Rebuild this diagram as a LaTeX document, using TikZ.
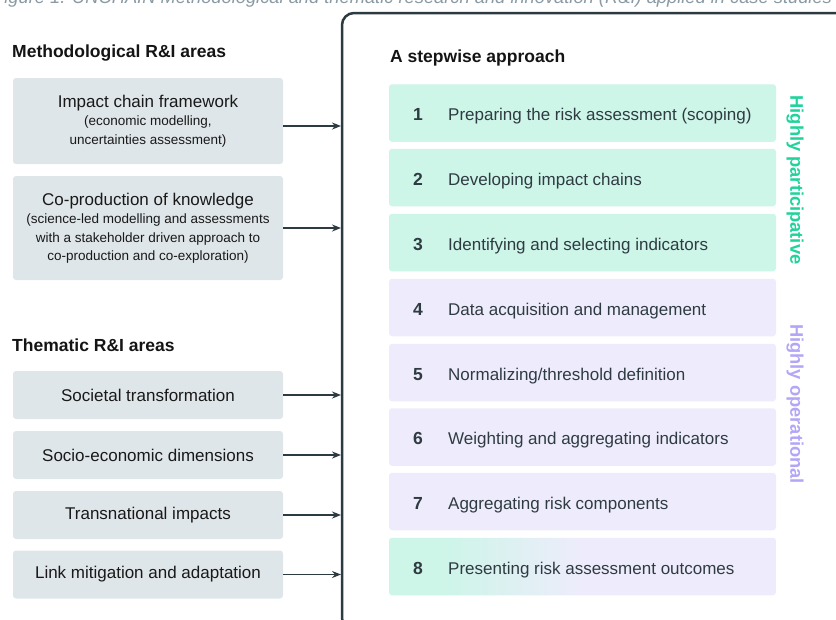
\documentclass[tikz,border=0pt]{standalone}
\usepackage{fontspec}
\setmainfont{Liberation Sans}
\usepackage{tikz}
\usetikzlibrary{arrows.meta}
\definecolor{areagray}{HTML}{DFE6E9}
\definecolor{stepgreen}{HTML}{CDF5E8}
\definecolor{steplilac}{HTML}{EEECFC}
\definecolor{partgreen}{HTML}{1FD39B}
\definecolor{oplilac}{HTML}{B3A6F7}
\definecolor{framedark}{HTML}{2C3A41}
\definecolor{captiongray}{HTML}{8A9AA4}
\definecolor{stepink}{HTML}{2F3B42}
\pgfdeclarehorizontalshading{stepfade}{100bp}{color(0bp)=(stepgreen); color(32bp)=(stepgreen); color(50bp)=(steplilac); color(100bp)=(steplilac)}
\newcommand{\areanote}[1]{{\fontsize{13.5}{18.5}\selectfont #1}}
\tikzset{
	capnode/.style={
			anchor=base west,
			inner sep=0pt,
			text=captiongray,
			font=\fontsize{18.3}{20}\selectfont\itshape
		},
	framenode/.style={
			draw=framedark,
			line width=2.5pt,
			rounded corners=12pt
		},
	headnode/.style={
			anchor=base west,
			inner sep=0pt,
			text=black!92,
			font=\fontsize{17.5}{20}\selectfont\bfseries
		},
	areanode/.style={
			fill=areagray,
			rounded corners=3pt,
			minimum width=270pt,
			inner sep=0pt,
			align=center,
			text=black!90,
			font=\fontsize{17}{18.5}\selectfont
		},
	stepnode/.style={
			rounded corners=3pt,
			minimum width=387pt,
			minimum height=57.5pt,
			inner sep=0pt
		},
	greenstep/.style={
			stepnode,
			fill=stepgreen
		},
	lilacstep/.style={
			stepnode,
			fill=steplilac
		},
	fadestep/.style={
			stepnode,
			shade,
			shading=stepfade
		},
	stepnum/.style={
			anchor=base west,
			inner sep=0pt,
			text=stepink,
			font=\fontsize{17.5}{20}\selectfont\bfseries
		},
	steptext/.style={
			anchor=base west,
			inner sep=0pt,
			text=stepink,
			font=\fontsize{17}{20}\selectfont
		},
	sidenode/.style={
			rotate=-90,
			inner sep=0pt,
			font=\fontsize{18.3}{20}\selectfont\bfseries
		},
	feedarrow/.style={
			draw=framedark,
			line width=1.8pt,
			-{Stealth[length=9pt,width=7pt]}
		}
}

\begin{document}
\begin{tikzpicture}[x=1pt,y=-1pt]
\useasboundingbox (0,0) rectangle (836,619);
\clip (0,0) rectangle (836,619);

% caption line, running off the top edge
\node[capnode] (cap) at (-7,3.5) {Figure 1. UNCHAIN Methodological and thematic research and innovation (R\&I) applied in case studies};

% open frame around the steps
\draw[framenode] (342,13) rectangle (900,630);
\coordinate (rim) at (341,0);

% left column
\node[headnode] (hMeth) at (12,57) {Methodological R\&I areas};
\node[areanode, minimum height=86pt] (mImpact) at (148,121) {Impact chain framework\\\areanote{(economic modelling,}\\\areanote{uncertainties assessment)}};
\node[areanode, minimum height=104pt] (mCoprod) at (148,228) {Co-production of knowledge\\\areanote{(science-led modelling and assessments}\\\areanote{with a stakeholder driven approach to}\\\areanote{co-production and co-exploration)}};

\node[headnode] (hThem) at (12,351) {Thematic R\&I areas};
\node[areanode, minimum height=48pt] (tSoc) at (148,395) {Societal transformation};
\node[areanode, minimum height=48pt] (tEco) at (148,455) {Socio-economic dimensions};
\node[areanode, minimum height=48pt] (tTrans) at (148,515) {Transnational impacts};
\node[areanode, minimum height=48pt] (tLink) at (148,574.5) {Link mitigation and adaptation};

\draw[feedarrow] ([yshift=-5pt]mImpact.east) -- ([yshift=-5pt]mImpact.east -| rim);
\draw[feedarrow] (mCoprod.east) -- (mCoprod.east -| rim);
\draw[feedarrow] (tSoc.east) -- (tSoc.east -| rim);
\draw[feedarrow] (tEco.east) -- (tEco.east -| rim);
\draw[feedarrow] (tTrans.east) -- (tTrans.east -| rim);
\draw[feedarrow] (tLink.east) -- (tLink.east -| rim);

% the eight steps
\node[headnode] (hStep) at (390,62) {A stepwise approach};

\node[greenstep] (s1) at (582.5,113) {};
\node[greenstep] (s2) at (582.5,177.5) {};
\node[greenstep] (s3) at (582.5,242.5) {};
\node[lilacstep] (s4) at (582.5,307.5) {};
\node[lilacstep] (s5) at (582.5,372.5) {};
\node[lilacstep] (s6) at (582.5,437) {};
\node[lilacstep] (s7) at (582.5,501.5) {};
\node[fadestep] (s8) at (582.5,566.5) {};

\node[stepnum] (n1) at (413,120.5) {1};
\node[stepnum] (n2) at (413,185) {2};
\node[stepnum] (n3) at (413,250) {3};
\node[stepnum] (n4) at (413,315) {4};
\node[stepnum] (n5) at (413,380) {5};
\node[stepnum] (n6) at (413,444.5) {6};
\node[stepnum] (n7) at (413,509) {7};
\node[stepnum] (n8) at (413,574) {8};

\node[steptext] (l1) at (448,120.5) {Preparing the risk assessment (scoping)};
\node[steptext] (l2) at (448,185) {Developing impact chains};
\node[steptext] (l3) at (448,250) {Identifying and selecting indicators};
\node[steptext] (l4) at (448,315) {Data acquisition and management};
\node[steptext] (l5) at (448,380) {Normalizing/threshold definition};
\node[steptext] (l6) at (448,444.5) {Weighting and aggregating indicators};
\node[steptext] (l7) at (448,509) {Aggregating risk components};
\node[steptext] (l8) at (448,574) {Presenting risk assessment outcomes};

\node[sidenode, text=partgreen] (hPart) at (795,180) {Highly participative};
\node[sidenode, text=oplilac] (hOper) at (795,404) {Highly operational};

\end{tikzpicture}
\end{document}
